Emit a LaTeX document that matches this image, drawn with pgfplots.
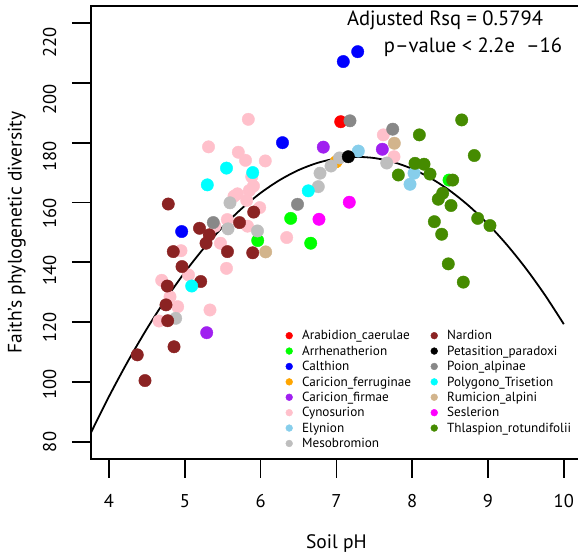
\documentclass[border=0pt]{standalone}
\usepackage{fontspec}
\setmainfont{PT Sans}
\usepackage{pgfplots}
\pgfplotsset{compat=1.18}

% alliance colours
\definecolor{cArabidion}{RGB}{255,0,0}
\definecolor{cArrhen}{RGB}{0,255,0}
\definecolor{cCalthion}{RGB}{0,0,255}
\definecolor{cCarFerr}{RGB}{255,165,0}
\definecolor{cCarFirm}{RGB}{160,32,240}
\definecolor{cCynos}{RGB}{255,192,203}
\definecolor{cElyn}{RGB}{135,206,235}
\definecolor{cMesob}{RGB}{190,190,190}
\definecolor{cNard}{RGB}{139,35,35}
\definecolor{cPetas}{RGB}{0,0,0}
\definecolor{cPoion}{RGB}{136,136,136}
\definecolor{cPolyg}{RGB}{0,255,255}
\definecolor{cRumic}{RGB}{210,180,140}
\definecolor{cSesl}{RGB}{255,0,255}
\definecolor{cThlas}{RGB}{69,139,0}

\pgfplotsset{
  grp/.style={only marks, mark=*, mark size=6.2pt, color=#1,
              mark options={draw=none, fill=#1}, forget plot},
}

\begin{document}
\begin{tikzpicture}
\begin{axis}[
  scale only axis, width=491.2pt, height=452.5pt,
  xmin=3.76, xmax=10.24, ymin=74.4, ymax=225.6,
  axis line style={line width=1.8pt},
  tick pos=left, tick align=outside, major tick length=19pt,
  tick style={line width=1.8pt, black},
  xtick={4,5,...,10}, ytick={80,100,...,220},
  /pgf/number format/assume math mode=true,
  ticklabel style={font=\fontsize{18.5}{20}\selectfont},
  xticklabel style={yshift=-13pt},
  yticklabel style={rotate=90, anchor=south, yshift=12pt},
  % y labels sit on a slightly tighter spacing than the ticks
  yticklabel={\pgfmathsetmacro{\labshift}{(\tick-80)*0.278}\pgfmathprintnumber{\tick}\hspace*{\labshift pt}},
  xlabel={Soil pH},
  ylabel={Faith's phylogenetic diversity},
  label style={font=\fontsize{19.5}{22}\selectfont},
  xlabel style={at={(axis description cs:0.5,0)}, anchor=center, yshift=-85pt},
  ylabel style={at={(axis description cs:0,0.5)}, anchor=center, yshift=74pt},
  legend columns=2,
  legend cell align=left,
  legend image code/.code={\fill (0pt,0.8pt) circle (3.4pt);},
  legend style={draw=none, fill=none, inner sep=0pt, outer sep=0pt,
    at={(axis cs:6.330,117.25)}, anchor=north west,
    font=\fontsize{13.2}{15}\selectfont,
    nodes={inner sep=0pt, text height=9.5pt, text depth=2.5pt},
    row sep=3.4pt,
    /tikz/column 1/.style={column sep=9.3pt},
    /tikz/column 2/.style={column sep=19.5pt},
    /tikz/column 3/.style={column sep=9.3pt}},
]

\addplot[grp=cArabidion] coordinates {(7.057,187.0)};
\addplot[grp=cArrhen] coordinates {(5.962,147.3) (6.397,154.7) (6.661,146.4) (8.486,167.5)};
\addplot[grp=cCalthion] coordinates {(4.959,150.3) (6.289,180.0) (7.091,207.1) (7.281,210.4)};
\addplot[grp=cCarFerr] coordinates {(6.995,173.6)};
\addplot[grp=cCarFirm] coordinates {(5.289,116.5) (6.827,178.5) (7.606,177.8)};
\addplot[grp=cCynos] coordinates {
  (5.838,187.8) (5.313,178.6) (5.706,176.8) (5.801,174.1) (6.062,173.9)
  (5.883,168.6) (5.906,165.5) (5.851,164.0) (5.695,162.9) (5.649,162.1)
  (5.817,160.7) (5.988,158.3) (5.561,154.3) (5.398,152.1) (5.827,152.1)
  (6.344,148.3) (5.471,146.4) (4.950,143.9) (5.550,138.0) (5.049,135.8)
  (4.695,134.0) (4.805,128.5) (4.906,125.2) (4.660,120.4) (5.332,124.1)
  (7.619,182.6) (7.760,175.3)};
\addplot[grp=cElyn] coordinates {(7.289,177.2) (7.971,166.1) (8.024,169.8)};
\addplot[grp=cMesob] coordinates {
  (4.880,121.3) (5.596,159.9) (5.570,151.2) (5.959,150.5) (6.761,165.3)
  (6.784,169.8) (6.929,172.2) (7.041,174.9) (7.664,173.2)};
\addplot[grp=cNard] coordinates {
  (4.373,109.1) (4.475,100.5) (4.774,120.5) (4.752,125.8) (4.769,132.1)
  (4.858,111.8) (4.848,143.6) (4.963,138.6) (4.782,159.5) (5.210,133.6)
  (5.194,151.4) (5.323,149.2) (5.280,146.4) (5.563,143.6) (5.722,153.3)
  (5.909,156.8) (5.896,143.2)};
\addplot[grp=cPetas] coordinates {(7.157,175.3)};
\addplot[grp=cPoion] coordinates {(5.376,153.3) (6.487,159.4) (7.179,187.3) (7.743,184.5)};
\addplot[grp=cPolyg] coordinates {(5.091,132.1) (5.297,165.9) (5.550,171.5) (5.896,170.0) (6.629,163.9)};
\addplot[grp=cRumic] coordinates {(6.067,143.5) (7.764,179.8)};
\addplot[grp=cSesl] coordinates {(6.770,154.4) (7.170,160.1)};
\addplot[grp=cThlas] coordinates {
  (8.653,187.6) (8.094,182.6) (8.819,175.7) (7.817,169.2) (8.037,173.1)
  (8.156,172.8) (8.235,169.5) (8.534,167.5) (8.402,163.1) (8.344,161.1)
  (8.512,159.0) (8.292,153.6) (8.864,154.7) (9.026,152.3) (8.389,149.4)
  (8.476,139.5) (8.674,133.4)};

% quadratic fit of diversity on soil pH
\addplot[black, line width=1.8pt, smooth, forget plot] coordinates {
  (3.75,82.48) (4.00,95.19) (4.25,106.97) (4.50,117.82) (4.75,127.72)
  (5.00,136.68) (5.25,144.71) (5.50,151.82) (5.75,157.97) (6.00,163.19)
  (6.25,167.47) (6.50,170.83) (6.75,173.24) (7.00,174.71) (7.25,175.25)
  (7.50,174.86) (7.75,173.52) (8.00,171.25) (8.25,168.04) (8.50,163.90)
  (8.75,158.82) (9.00,152.80) (9.25,145.84) (9.50,137.96) (9.75,129.13)
  (10.00,119.36)};

\node[font=\fontsize{20.6}{23}\selectfont] at (axis cs:8.433,221.0) {Adjusted Rsq = 0.5794};
\node[font=\fontsize{20.6}{23}\selectfont] at (axis cs:8.802,211.8) {p–value < 2.2e\ \ –16};

% legend, filled column by column
\addlegendimage{cArabidion}\addlegendentry{Arabidion\_caerulae}
\addlegendimage{cNard}\addlegendentry{Nardion}
\addlegendimage{cArrhen}\addlegendentry{Arrhenatherion}
\addlegendimage{cPetas}\addlegendentry{Petasition\_paradoxi}
\addlegendimage{cCalthion}\addlegendentry{Calthion}
\addlegendimage{cPoion}\addlegendentry{Poion\_alpinae}
\addlegendimage{cCarFerr}\addlegendentry{Caricion\_ferruginae}
\addlegendimage{cPolyg}\addlegendentry{Polygono\_Trisetion}
\addlegendimage{cCarFirm}\addlegendentry{Caricion\_firmae}
\addlegendimage{cRumic}\addlegendentry{Rumicion\_alpini}
\addlegendimage{cCynos}\addlegendentry{Cynosurion}
\addlegendimage{cSesl}\addlegendentry{Seslerion}
\addlegendimage{cElyn}\addlegendentry{Elynion}
\addlegendimage{cThlas}\addlegendentry{Thlaspion\_rotundifolii}
\addlegendimage{cMesob}\addlegendentry{Mesobromion}
\end{axis}
\pgfresetboundingbox
\path (-90.8pt,-97.3pt) rectangle (487.2pt,458.7pt);
\end{tikzpicture}
\end{document}
